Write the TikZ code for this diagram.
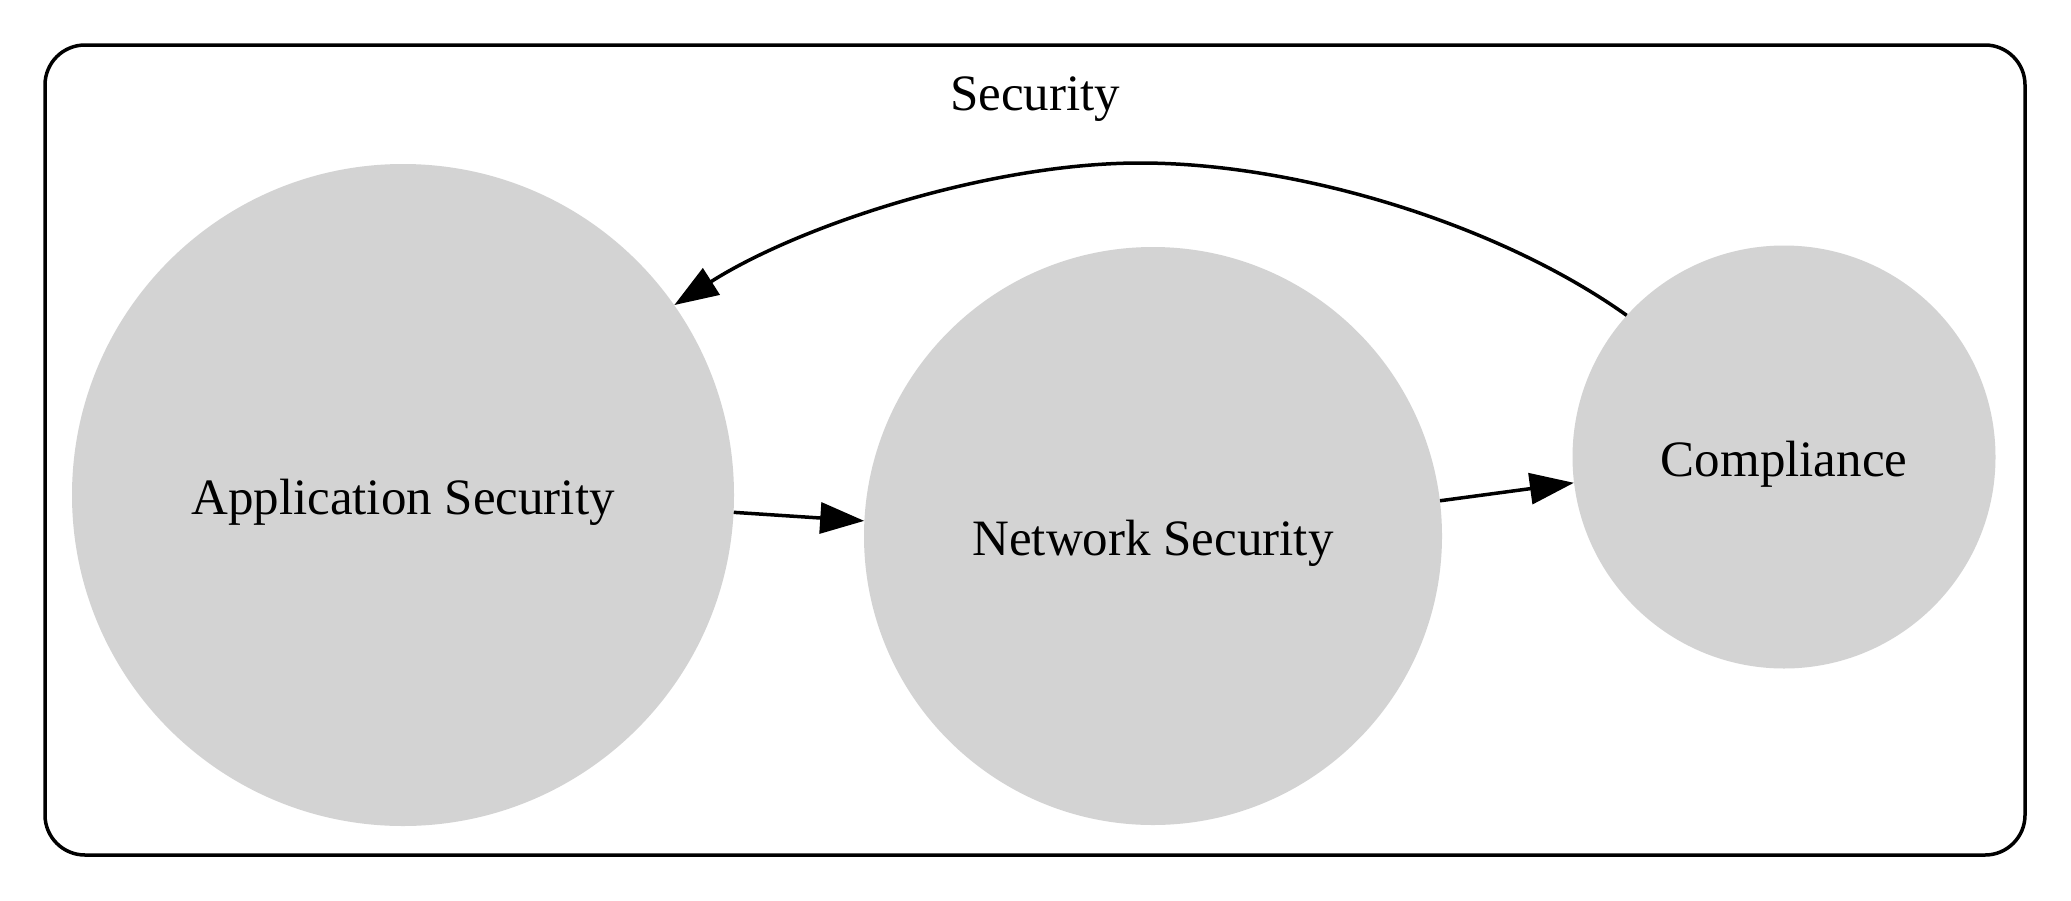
\documentclass[tikz,border=0pt]{standalone}
\usepackage{fontspec}
\setmainfont{Liberation Serif}
\usetikzlibrary{arrows.meta}
\newcommand{\lowr}[1]{\raisebox{-7pt}[\height][\depth]{#1}}
\begin{document}
\begin{tikzpicture}[x=1pt,y=-1pt,
  blob/.style={circle,fill={rgb,255:red,211;green,211;blue,211},draw=none,inner sep=0pt,font=\fontsize{51}{61}\selectfont},
  conn/.style={line width=3.5pt,-{Triangle[length=44pt,width=31pt]}},
  lbl/.style={inner sep=0pt,font=\fontsize{51}{61}\selectfont}]
\useasboundingbox (0,0) rectangle (2071,900);
\draw[line width=3.5pt,rounded corners=40pt] (45,45) rectangle (2025,855);
\node[lbl] (title) at (1035,99) {Security};
\node[blob,minimum size=662pt] (app) at (403,495) {\lowr{Application Security}};
\node[blob,minimum size=578pt] (net) at (1153,536) {\lowr{Network Security}};
\node[blob,minimum size=423pt] (comp) at (1784,457) {\lowr{Compliance}};
\draw[conn] (app.-3) -- (net.177);
\draw[conn] (net.7) -- (comp.187);
\draw[conn] (comp.138.6) .. controls (1500,225) and (1300,163) .. (1140,163)
  .. controls (990,163) and (800,225) .. (app.35.6);
\end{tikzpicture}
\end{document}
